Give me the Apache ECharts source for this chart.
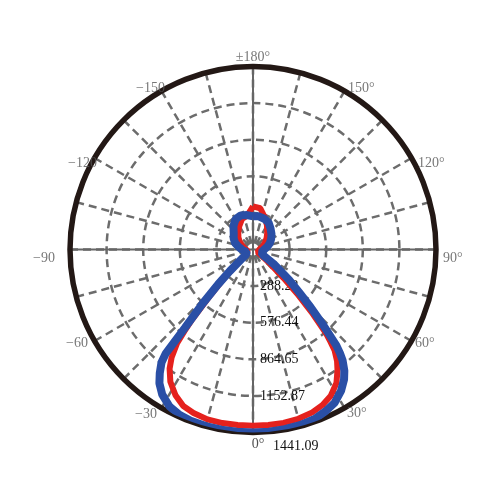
<!DOCTYPE html>
<html><head><meta charset="utf-8">
<script src="https://cdn.jsdelivr.net/npm/echarts@6/dist/echarts.min.js"></script>
<style>html,body{margin:0;padding:0;background:#fff}#c{width:500px;height:500px}</style>
</head><body><div id="c"></div>
<script>
// Angles in degrees: 0 = straight down, +90 = right, ±180 = up, -90 = left
const angles = [-180,-170,-160,-150,-140,-130,-120,-110,-100,-90,-80,-70,-60,-55,-50,-47,-45,-43,-41,-40,-39,-37,-35,-32,-28,-24,-20,-15,-10,-5,
  0,5,10,15,20,24,28,32,35,37,39,40,41,43,45,47,50,55,60,70,80,90,100,110,120,130,140,150,160,170,180];
// Blue curve (candela)
const blueValues = [262,275,285,275,240,198,176,150,115,88,70,55,47,63,120,250,390,580,820,1070,1145,1220,1285,1348,1400,1425,1435,1440,1441,1441,
  1441,1440,1437,1432,1420,1397,1368,1310,1250,1195,1120,1065,1000,800,640,500,370,200,95,70,75,88,112,140,165,190,215,245,258,265,262];
// Red curve (candela)
const redValues = [340,270,255,215,180,150,120,90,70,55,45,40,40,55,110,210,330,490,730,840,950,1065,1145,1228,1300,1350,1370,1385,1388,1388,
  1388,1388,1387,1380,1365,1342,1305,1240,1160,1100,1020,950,880,680,490,330,180,80,40,35,40,50,65,85,110,140,175,220,270,330,340];
const radiusMax = 1441.09;
const ringCount = 5;
const angleTickStep = 15;
// Angle tick labels (degrees) and their texts
const angleLabelValues = [180, 150, 120, 90, 60, 30, 0, -30, -60, -90, -120, -150];
const angleLabelTexts = ['±180°', '150°', '120°', '90°', '60°', '30°', '0°', '\u221230', '\u221260', '\u221290', '\u2212120', '\u2212150'];

// label placement styles (alignment + pixel nudge from the tick on the outer circle)
const angleLabelStyle = {
  '180': ['center', 0, -9.5], '150': ['left', 3.5, -3], '120': ['left', 6.5, 5], '90': ['left', 7, 9],
  '60': ['left', 3.5, 2.5], '30': ['left', 2.5, 5], '0': ['center', 5, 11.5], '-30': ['right', -4.5, 6],
  '-60': ['right', -6.5, 2.5], '-90': ['right', -15, 9], '-120': ['right', 2.5, 5], '-150': ['right', 3.5, -3]
};

const serif = '"Liberation Serif", "Times New Roman", serif';
const gridGray = '#6c6c6c';
const toAxisAngle = a => (a < 0 ? a + 360 : a);

const chart = echarts.init(document.getElementById('c'));
chart.setOption({
  backgroundColor: '#ffffff',
  animation: false,
  polar: [
    { center: [253, 249.5], radius: 183 },
    { center: [253, 249.5], radius: 183 }
  ],
  angleAxis: [
    {
      polarIndex: 0, type: 'value', min: 0, max: 360, interval: angleTickStep,
      startAngle: 270, clockwise: false,
      axisLine: { show: true, lineStyle: { color: '#231815', width: 5.5 } },
      axisTick: { show: false },
      axisLabel: { show: false },
      splitLine: { show: true, lineStyle: { color: gridGray, width: 2.5, type: [8, 5] } }
    },
    {
      polarIndex: 1, type: 'value', min: 0, max: 360, interval: 90,
      startAngle: 270, clockwise: false,
      axisLine: { show: false }, axisTick: { show: false }, axisLabel: { show: false },
      splitLine: { show: true, lineStyle: { color: '#666', width: 2, type: 'solid' } }
    }
  ],
  radiusAxis: [
    {
      polarIndex: 0, type: 'value', min: 0, max: radiusMax, interval: radiusMax / ringCount,
      axisLine: { show: false }, axisTick: { show: false },
      axisLabel: {
        show: true, margin: 7, color: '#111', fontFamily: serif, fontSize: 14,
        formatter: v => {
          if (v <= 0) return '';
          const s = v.toFixed(2);
          return v >= radiusMax - 0.01 ? '{last|' + s + '}' : s;
        },
        rich: { last: { padding: [28, 0, 0, 13], color: '#111', fontFamily: serif, fontSize: 14 } }
      },
      splitLine: { show: true, lineStyle: { color: gridGray, width: 2.5, type: [8, 5] } }
    },
    {
      polarIndex: 1, type: 'value', min: 0, max: radiusMax,
      axisLine: { show: false }, axisTick: { show: false }, axisLabel: { show: false }, splitLine: { show: false }
    }
  ],
  series: [
    {
      type: 'line', coordinateSystem: 'polar', polarIndex: 0, clip: false,
      data: angles.map((a, i) => [redValues[i], toAxisAngle(a)]),
      symbol: 'none', smooth: false,
      lineStyle: { color: '#e5211d', width: 6 }, z: 3
    },
    {
      type: 'line', coordinateSystem: 'polar', polarIndex: 0, clip: false,
      data: angles.map((a, i) => [blueValues[i], toAxisAngle(a)]),
      symbol: 'none', smooth: false,
      lineStyle: { color: '#2a4fa6', width: 8 }, z: 4
    },
    {
      // angle tick labels placed at the outer circle through the polar scales
      type: 'scatter', coordinateSystem: 'polar', polarIndex: 0, clip: false,
      symbolSize: 0, silent: true, z: 5,
      data: angleLabelValues.map((a, i) => {
        const st = angleLabelStyle[String(a)];
        return {
          value: [radiusMax, toAxisAngle(a)],
          label: {
            show: true, position: 'inside', formatter: angleLabelTexts[i],
            align: st[0], verticalAlign: 'middle', offset: [st[1], st[2]],
            color: a === 0 ? '#222' : '#555', fontFamily: serif, fontSize: 14
          }
        };
      })
    }
  ]
});
</script>
</body></html>
